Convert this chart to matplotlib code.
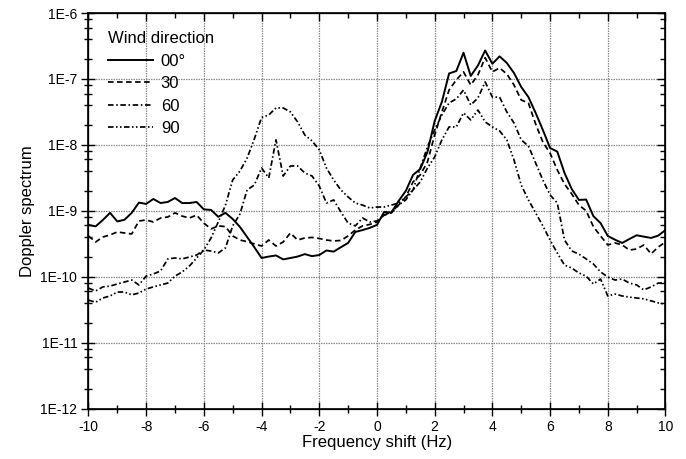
import numpy as np
import matplotlib
matplotlib.use('Agg')
import matplotlib.pyplot as plt
from matplotlib.ticker import LogLocator, NullFormatter, MultipleLocator

plt.rcParams['font.family'] = ['Liberation Sans', 'DejaVu Sans']
plt.rcParams['axes.unicode_minus'] = False

# frequency grid (Hz), 0.25 Hz step
freq = np.linspace(-10, 10, 81)

# Doppler spectra, one list per wind direction
spec_00 = [
    6.1e-10, 5.8e-10, 7.25e-10, 9.3e-10, 6.9e-10, 7.3e-10, 9.3e-10, 1.33e-9, 1.27e-9, 1.51e-9,
    1.31e-9, 1.36e-9, 1.56e-9, 1.31e-9, 1.31e-9, 1.36e-9, 1.05e-9, 1.03e-9, 8.1e-10, 9.3e-10,
    7.5e-10, 5.7e-10, 4.0e-10, 2.8e-10, 1.92e-10, 2.02e-10, 2.1e-10, 1.83e-10, 1.92e-10, 2.02e-10,
    2.2e-10, 2.05e-10, 2.13e-10, 2.5e-10, 2.4e-10, 2.8e-10, 3.25e-10, 4.77e-10, 5.1e-10, 5.5e-10,
    6.1e-10, 9.6e-10, 9.4e-10, 1.41e-9, 2.0e-9, 3.5e-9, 4.3e-9, 7.8e-9, 2.3e-8, 4.5e-8,
    1.21e-7, 1.32e-7, 2.5e-7, 1.11e-7, 1.6e-7, 2.7e-7, 1.7e-7, 2.2e-7, 1.75e-7, 1.23e-7,
    7.56e-8, 5.3e-8, 3.05e-8, 1.68e-8, 8.97e-9, 7.9e-9, 3.75e-9, 2.14e-9, 1.46e-9, 1.48e-9,
    8.3e-10, 6.5e-10, 4.15e-10, 3.64e-10, 3.25e-10, 3.73e-10, 4.25e-10, 4.05e-10, 3.87e-10, 4.2e-10,
    5.1e-10]
spec_30 = [
    4.15e-10, 3.36e-10, 4.0e-10, 4.3e-10, 4.77e-10, 4.6e-10, 4.45e-10, 7.0e-10, 7.25e-10, 6.76e-10,
    7.77e-10, 8.05e-10, 9.3e-10, 8.3e-10, 7.77e-10, 8.6e-10, 6.5e-10, 5.3e-10, 5.9e-10, 5.75e-10,
    4.15e-10, 3.6e-10, 3.4e-10, 3.14e-10, 2.92e-10, 3.6e-10, 2.92e-10, 3.36e-10, 4.6e-10, 3.6e-10,
    3.87e-10, 3.94e-10, 3.8e-10, 3.6e-10, 3.48e-10, 3.55e-10, 4.15e-10, 5.1e-10, 5.9e-10, 6.2e-10,
    6.76e-10, 8.6e-10, 9.3e-10, 1.22e-9, 1.62e-9, 2.74e-9, 3.5e-9, 5.5e-9, 1.41e-8, 3.16e-8,
    6.8e-8, 9.65e-8, 1.28e-7, 8.1e-8, 1.15e-7, 2.1e-7, 1.28e-7, 1.47e-7, 1.19e-7, 8.1e-8,
    4.8e-8, 4.3e-8, 2.07e-8, 1.1e-8, 7.5e-9, 4.16e-9, 2.55e-9, 1.8e-9, 1.22e-9, 1.0e-9,
    5.75e-10, 4.15e-10, 3.03e-10, 3.25e-10, 3.03e-10, 2.54e-10, 2.63e-10, 3.03e-10, 2.22e-10, 2.82e-10,
    3.36e-10]
spec_60 = [
    6.7e-11, 6.07e-11, 7.0e-11, 7.2e-11, 7.75e-11, 8.3e-11, 8.9e-11, 7.5e-11, 1.02e-10, 1.1e-10,
    1.22e-10, 1.86e-10, 1.92e-10, 1.86e-10, 1.99e-10, 2.13e-10, 2.54e-10, 2.45e-10, 2.29e-10, 2.73e-10,
    5.9e-10, 8.9e-10, 2.07e-9, 2.46e-9, 4.46e-9, 3.15e-9, 1.19e-8, 3.37e-9, 4.78e-9, 4.78e-9,
    3.74e-9, 3.37e-9, 2.38e-9, 1.31e-9, 1.46e-9, 9.6e-10, 6.5e-10, 5.9e-10, 7.77e-10, 6.76e-10,
    7.0e-10, 8.6e-10, 9.6e-10, 1.22e-9, 1.46e-9, 2.07e-9, 4.46e-9, 9.3e-9, 1.68e-8, 2.84e-8,
    4.33e-8, 4.98e-8, 6.8e-8, 4.03e-8, 5.15e-8, 9.0e-8, 5.3e-8, 5.3e-8, 3.16e-8, 2.15e-8,
    1.19e-8, 9.6e-9, 5.3e-9, 2.93e-9, 1.74e-9, 1.31e-9, 3.6e-10, 2.46e-10, 2.2e-10, 1.86e-10,
    1.56e-10, 1.18e-10, 9.9e-11, 8.9e-11, 9.2e-11, 8.0e-11, 7.5e-11, 6.3e-11, 7.0e-11, 8.0e-11,
    8.0e-11]
spec_90 = [
    4.4e-11, 4.1e-11, 4.75e-11, 5.1e-11, 5.85e-11, 5.85e-11, 5.3e-11, 5.65e-11, 6.5e-11, 7.0e-11,
    7.5e-11, 8.0e-11, 1.02e-10, 1.18e-10, 1.45e-10, 1.92e-10, 2.54e-10, 3.86e-10, 6.76e-10, 1.22e-9,
    2.93e-9, 4.0e-9, 6.3e-9, 1.23e-8, 2.6e-8, 2.84e-8, 3.63e-8, 3.63e-8, 3.16e-8, 2.23e-8,
    1.41e-8, 1.15e-8, 8.4e-9, 4.45e-9, 2.93e-9, 2.07e-9, 1.62e-9, 1.31e-9, 1.22e-9, 1.1e-9,
    1.14e-9, 1.14e-9, 1.22e-9, 1.31e-9, 1.62e-9, 2.07e-9, 2.74e-9, 4.45e-9, 6.55e-9, 1.19e-8,
    1.87e-8, 1.87e-8, 3.05e-8, 2.39e-8, 3.38e-8, 2.23e-8, 1.87e-8, 1.63e-8, 1.19e-8, 5.9e-9,
    2.46e-9, 1.46e-9, 9.3e-10, 5.9e-10, 3.6e-10, 2.28e-10, 1.5e-10, 1.35e-10, 1.14e-10, 1.02e-10,
    7.75e-11, 9.2e-11, 5.1e-11, 5.45e-11, 5.1e-11, 4.9e-11, 4.75e-11, 4.6e-11, 4.3e-11, 4.0e-11,
    3.85e-11]

series_labels = ['00\u00b0', '30', '60', '90']
xticks = [-10, -8, -6, -4, -2, 0, 2, 4, 6, 8, 10]
xtick_labels = ['-10', '-8', '-6', '-4', '-2', '0', '2', '4', '6', '8', '10']
yticks = [1e-12, 1e-11, 1e-10, 1e-9, 1e-8, 1e-7, 1e-6]
ytick_labels = ['1E-12', '1E-11', '1E-10', '1E-9', '1E-8', '1E-7', '1E-6']

styles = ['-', (0, (3.2, 2.0)), (0, (3.2, 1.5, 0.9, 1.5)), (0, (3.2, 1.4, 0.9, 1.4, 0.9, 1.4))]
widths = [1.4, 1.25, 1.25, 1.25]

fig = plt.figure(figsize=(6.86, 4.59), dpi=100)
ax = fig.add_axes([0.1289, 0.110, 0.8412, 0.8616])

for spec, lab, ls, lw in zip([spec_00, spec_30, spec_60, spec_90], series_labels, styles, widths):
    ax.plot(freq, spec, color='black', linestyle=ls, linewidth=lw, label=lab)

ax.set_yscale('log')
ax.set_xlim(-10, 10)
ax.set_ylim(1e-12, 1e-6)
ax.set_xticks(xticks)
ax.set_xticklabels(xtick_labels)
ax.xaxis.set_minor_locator(MultipleLocator(1))
ax.set_yticks(yticks)
ax.set_yticklabels(ytick_labels)
ax.yaxis.set_minor_locator(LogLocator(base=10, subs=[2, 4, 6, 8], numticks=20))
ax.yaxis.set_minor_formatter(NullFormatter())

ax.grid(True, which='major', color='0.55', linestyle=(0, (1.2, 0.8)), linewidth=0.9)
ax.set_axisbelow(True)

ax.tick_params(which='both', direction='inout', labelsize=10, width=1, pad=3)
ax.tick_params(which='major', length=10)
ax.tick_params(which='minor', length=6)
for s in ax.spines.values():
    s.set_linewidth(1.2)

ax.set_xlabel('Frequency shift (Hz)', fontsize=12, labelpad=1)
ax.set_ylabel('Doppler spectrum', fontsize=12, labelpad=4)

# ticks on the right and top edges point inwards only
axr = ax.twinx()
axr.set_yscale('log')
axr.set_ylim(1e-12, 1e-6)
axr.set_yticks(yticks)
axr.yaxis.set_minor_locator(LogLocator(base=10, subs=[2, 4, 6, 8], numticks=20))
axr.yaxis.set_minor_formatter(NullFormatter())
axr.tick_params(which='both', direction='in', labelright=False, width=1)
axr.tick_params(which='major', length=6)
axr.tick_params(which='minor', length=3.5)

axt = ax.twiny()
axt.set_xlim(-10, 10)
axt.set_xticks(xticks)
axt.xaxis.set_minor_locator(MultipleLocator(1))
axt.tick_params(which='both', direction='in', labeltop=False, width=1)
axt.tick_params(which='major', length=6)
axt.tick_params(which='minor', length=3.5)

leg = ax.legend(title='Wind direction', loc='upper left', bbox_to_anchor=(0.02, 0.975),
                frameon=False, fontsize=12, title_fontsize=12, handlelength=2.7,
                handletextpad=0.45, labelspacing=0.45, borderpad=0, alignment='left')

fig.savefig('out.png', dpi=100)
